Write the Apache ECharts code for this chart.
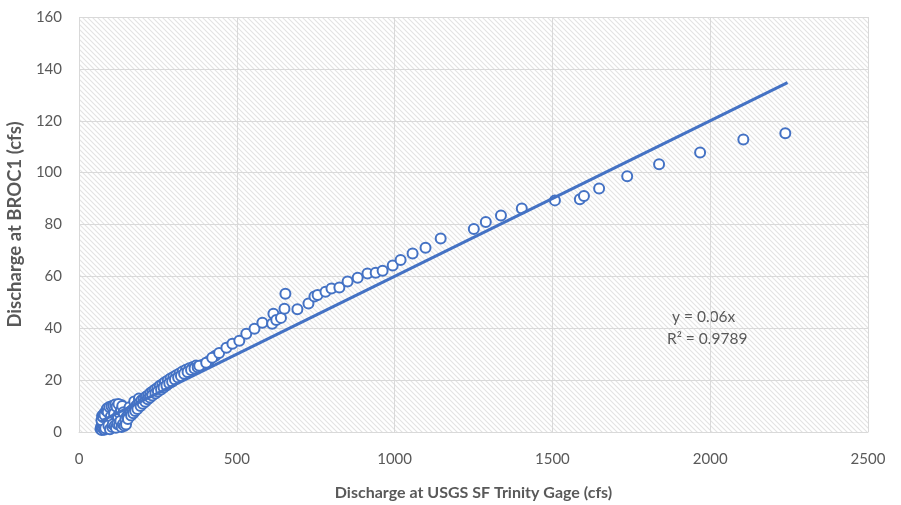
<!DOCTYPE html>
<html>
<head>
<meta charset="utf-8">
<script src="https://cdn.jsdelivr.net/npm/echarts@6/dist/echarts.min.js"></script>
<style>
  html, body { margin: 0; padding: 0; background: #ffffff; }
  #chart { width: 901px; height: 505px; }
</style>
</head>
<body>
<div id="chart"></div>
<script>
// Paired daily discharge readings: USGS SF Trinity gage (x) vs BROC1 (y), cfs
const gageCfs = [
  // low-flow cluster
  68, 70, 72, 74, 75, 77, 78, 80, 82, 84, 85, 87, 88, 90, 92, 94, 95, 97, 99, 100,
  102, 104, 106, 108, 110, 112, 114, 116, 118, 120, 122, 124, 126, 128, 130, 132, 134, 136, 138, 140,
  142, 145, 148, 150,
  71, 73, 76, 79, 81, 83, 86, 89, 91, 93, 96, 98, 101, 103, 105, 107, 109, 111, 113, 115,
  117, 119, 121, 123, 125, 127, 129, 131, 133, 135, 137, 139, 141, 144, 147, 149,
  // rising limb
  152, 158, 160, 163, 168, 174, 175, 180, 186, 190, 192, 198, 205, 212, 219, 226, 233, 240, 248, 256,
  264, 272, 281, 290, 299, 308, 318, 328, 339, 350, 361, 371,
  155, 165, 172, 178, 185, 195, 202, 210, 218, 225, 232, 242, 250, 260, 268, 277, 286, 295, 304, 314,
  323, 333, 344, 355, 366, 376, 392, 410, 432,
  // higher flows
  381, 403, 422, 444, 467, 486, 508, 530, 556, 581, 612, 616, 625, 640, 651, 654, 692, 727, 746, 756,
  781, 800, 825, 851, 883, 914, 940, 962, 994, 1019, 1057, 1098, 1146, 1251, 1289, 1337, 1403, 1508,
  1587, 1600, 1648, 1737, 1838, 1968, 2105, 2238
];
const broc1Cfs = [
  1.2, 2.0, 0.8, 3.1, 1.5, 4.2, 2.6, 0.9, 3.5, 5.1, 2.2, 6.0, 4.0, 1.8, 5.5, 7.2, 3.3, 6.4, 8.1, 2.7,
  4.8, 7.6, 9.0, 5.9, 3.6, 8.4, 6.8, 9.5, 4.4, 7.9, 10.1, 5.2, 8.8, 3.9, 9.8, 6.3, 10.4, 4.7, 7.4, 9.2,
  5.8, 3.4, 6.9, 4.6,
  4.5, 6.2, 5.8, 7.0, 6.6, 1.4, 8.3, 9.1, 7.7, 2.5, 9.6, 1.1, 6.0, 9.9, 1.9, 3.0, 10.2, 7.0, 2.4, 10.6,
  1.6, 9.7, 3.1, 6.1, 10.8, 2.8, 7.2, 4.2, 8.3, 1.9, 10.0, 3.0, 7.6, 2.4, 5.0, 2.9,
  6.1, 7.0, 9.5, 7.8, 8.4, 9.3, 11.8, 9.9, 10.8, 12.9, 11.3, 12.2, 12.8, 13.6, 14.2, 15.0, 15.6, 16.3, 17.0, 17.8,
  18.4, 19.2, 19.9, 20.6, 21.2, 21.9, 22.6, 23.3, 24.0, 24.6, 25.1, 25.6,
  5.0, 6.4, 7.2, 8.1, 8.9, 10.0, 10.9, 11.7, 12.6, 13.3, 14.1, 14.8, 15.6, 16.4, 17.2, 17.9, 18.8, 19.4, 20.2, 21.0,
  21.6, 22.5, 23.1, 23.9, 24.5, 25.0, 25.9, 27.2, 29.4,
  25.5, 26.7, 28.6, 30.5, 32.5, 34.0, 35.2, 37.9, 39.8, 42.1, 41.7, 45.6, 43.2, 44.0, 47.5, 53.3, 47.3, 49.5, 52.2, 52.8,
  54.1, 55.3, 55.7, 58.0, 59.5, 61.1, 61.4, 62.2, 64.2, 66.3, 68.8, 71.0, 74.6, 78.3, 81.0, 83.5, 86.2, 89.3,
  89.7, 91.0, 93.9, 98.6, 103.2, 107.8, 112.8, 115.2
];

// Linear trendline through the origin
const trendSlope = 0.06;
const trendLabel = ['y = 0.06x', 'R\u00B2 = 0.9789'];

const xTicks = [0, 500, 1000, 1500, 2000, 2500];
const yTicks = [0, 20, 40, 60, 80, 100, 120, 140, 160];

const points = gageCfs.map((g, i) => [g, broc1Cfs[i]]);
const xLo = Math.min(...gageCfs);
const xHi = Math.max(...gageCfs) + 7;
const trendPoints = [[xLo, trendSlope * xLo], [xHi, trendSlope * xHi]];

// Light diagonal hatch for the plot area
function hatchPattern() {
  const c = document.createElement('canvas');
  c.width = 5; c.height = 5;
  const ctx = c.getContext('2d');
  ctx.fillStyle = '#ffffff';
  ctx.fillRect(0, 0, 5, 5);
  ctx.strokeStyle = '#e3e3e3';
  ctx.lineWidth = 1.1;
  ctx.beginPath();
  ctx.moveTo(-1, -1); ctx.lineTo(6, 6);
  ctx.moveTo(-4, 1); ctx.lineTo(3, 8);
  ctx.moveTo(1, -4); ctx.lineTo(8, 3);
  ctx.stroke();
  return { image: c, repeat: 'repeat' };
}

const font = 'Lato, "Open Sans", sans-serif';
const textGrey = '#595959';
const blue = '#4472c4';
const plainNumber = v => String(v);

const chart = echarts.init(document.getElementById('chart'), null, { renderer: 'canvas' });
chart.setOption({
  animation: false,
  backgroundColor: '#ffffff',
  grid: {
    left: 79, right: 33, top: 17, bottom: 73,
    outerBoundsMode: 'none',
    containLabel: false,
    show: true,
    backgroundColor: hatchPattern(),
    borderWidth: 0
  },
  xAxis: {
    type: 'value',
    min: xTicks[0], max: xTicks[xTicks.length - 1], interval: 500,
    name: 'Discharge at USGS SF Trinity Gage (cfs)',
    nameLocation: 'middle', nameGap: 53,
    nameTextStyle: { color: textGrey, fontFamily: font, fontSize: 16, fontWeight: 'bold' },
    axisLine: { show: true, lineStyle: { color: '#d9d9d9', width: 1 } },
    axisTick: { show: false },
    axisLabel: { color: textGrey, fontFamily: font, fontSize: 15, margin: 20, formatter: plainNumber },
    splitLine: { show: true, lineStyle: { color: '#d9d9d9', width: 1 } }
  },
  yAxis: {
    type: 'value',
    min: yTicks[0], max: yTicks[yTicks.length - 1], interval: 20,
    name: 'Discharge at BROC1 (cfs)',
    nameLocation: 'middle', nameGap: 49, nameRotate: 90,
    nameTextStyle: { color: textGrey, fontFamily: font, fontSize: 18.5, fontWeight: 'bold' },
    axisLine: { show: false },
    axisTick: { show: false },
    axisLabel: { color: textGrey, fontFamily: font, fontSize: 15, margin: 17, formatter: plainNumber },
    splitLine: { show: true, lineStyle: { color: '#d9d9d9', width: 1 } }
  },
  series: [
    {
      type: 'scatter',
      data: points,
      symbol: 'circle',
      symbolSize: 10,
      itemStyle: { color: '#ffffff', borderColor: blue, borderWidth: 2, opacity: 1 },
      z: 2
    },
    {
      type: 'line',
      data: trendPoints,
      symbol: 'none',
      lineStyle: { color: blue, width: 3 },
      z: 3
    }
  ],
  graphic: [
    {
      type: 'text', left: 672, top: 309,
      style: { text: trendLabel[0], fill: textGrey, font: '15.5px ' + font }
    },
    {
      type: 'text', left: 667, top: 331,
      style: { text: trendLabel[1], fill: textGrey, font: '15.5px ' + font }
    }
  ]
});
</script>
</body>
</html>
